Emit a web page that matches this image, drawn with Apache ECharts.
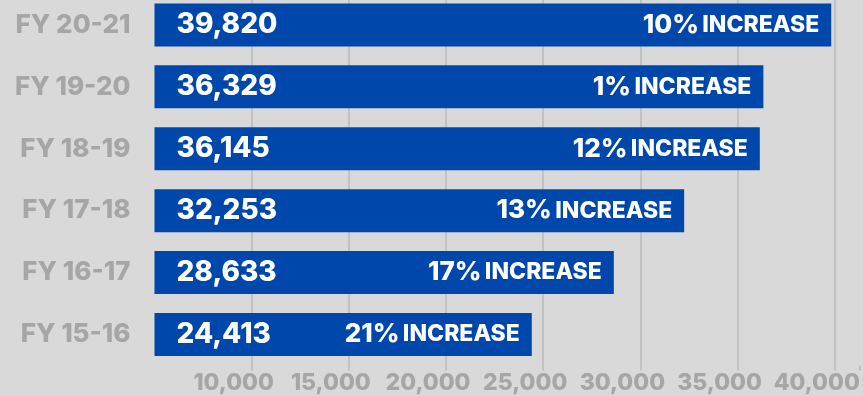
<!DOCTYPE html>
<html>
<head>
<meta charset="utf-8">
<script src="https://cdn.jsdelivr.net/npm/echarts@6/dist/echarts.min.js"></script>
<style>
  html, body { margin: 0; padding: 0; background: #d9d9d9; overflow: hidden; }
  /* canvas starts a few pixels above the page so the top band is partly clipped */
  #chart { position: absolute; left: 0; top: -6px; width: 863px; height: 402px; }
</style>
</head>
<body>
<div id="chart"></div>
<script>
// Fiscal years, bottom to top
const years = ['FY 15-16', 'FY 16-17', 'FY 17-18', 'FY 18-19', 'FY 19-20', 'FY 20-21'];
// Totals per fiscal year
const totals = [24413, 28633, 32253, 36145, 36329, 39820];
// Year-over-year increase, percent
const increases = [21, 17, 13, 12, 1, 10];
// Value axis ticks
const axisMin = 5000;
const axisMax = 41300;
const axisStep = 5000;

const grey = '#a6a6a6';
const blue = '#0047ab';
const fontFamily = 'Inter, "Open Sans", sans-serif';

const chart = echarts.init(document.getElementById('chart'), null, { renderer: 'canvas' });

chart.setOption({
  backgroundColor: '#d9d9d9',
  animation: false,
  grid: { left: 154.5, right: 0, top: 0, bottom: 30.6, containLabel: false },
  xAxis: {
    type: 'value',
    min: axisMin,
    max: axisMax,
    interval: axisStep,
    axisLine: { show: false },
    axisTick: { show: true, length: 5, lineStyle: { color: '#c2c2c2', width: 2 } },
    splitLine: { show: true, showMinLine: false, showMaxLine: false, lineStyle: { color: '#c2c2c2', width: 2 } },
    axisLabel: {
      color: grey,
      fontFamily: fontFamily,
      fontWeight: 800,
      fontSize: 23,
      margin: 6,
      padding: [0, 36, 0, 0],
      showMinLabel: false,
      formatter: v => (v === axisMin || v > 40000) ? '' : v.toLocaleString('en-US')
    }
  },
  yAxis: {
    type: 'category',
    data: years,
    axisLine: { show: false },
    axisTick: { show: false },
    axisLabel: {
      color: grey,
      fontFamily: fontFamily,
      fontWeight: 800,
      fontSize: 26,
      margin: 24
    }
  },
  series: [
    {
      type: 'bar',
      data: totals,
      barWidth: 43,
      itemStyle: { color: blue },
      label: {
        show: true,
        position: 'insideLeft',
        distance: 22,
        color: '#fff',
        fontFamily: fontFamily,
        fontWeight: 800,
        fontSize: 28,
        formatter: p => p.value.toLocaleString('en-US')
      },
      z: 2
    },
    {
      type: 'bar',
      data: totals,
      barWidth: 43,
      barGap: '-100%',
      itemStyle: { color: 'rgba(0,0,0,0)' },
      label: {
        show: true,
        position: 'insideRight',
        distance: 12,
        formatter: p => '{p|' + increases[p.dataIndex] + '%} {t|INCREASE}',
        rich: {
          p: { color: '#fff', fontFamily: fontFamily, fontWeight: 800, fontSize: 26 },
          t: { color: '#fff', fontFamily: fontFamily, fontWeight: 800, fontSize: 23 }
        }
      },
      z: 3
    }
  ]
});
</script>
</body>
</html>
